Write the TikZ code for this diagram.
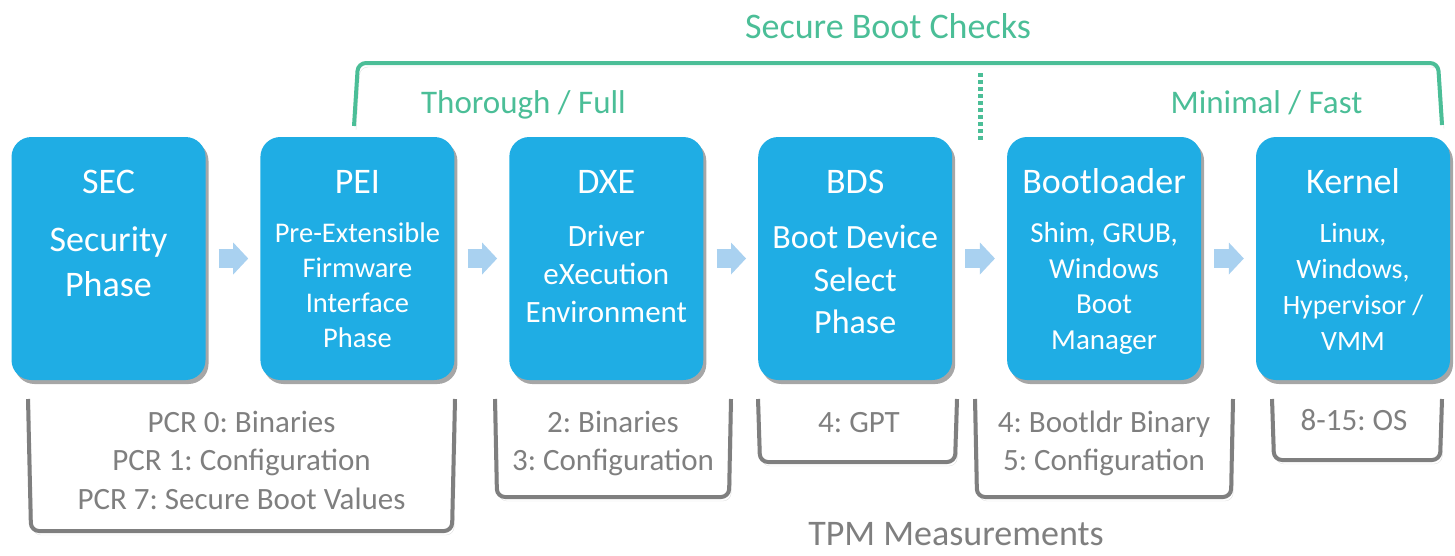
\documentclass[tikz,border=0pt]{standalone}
\usepackage{fontspec}
\setmainfont{Carlito}
\usetikzlibrary{positioning,shadows,arrows.meta}
\definecolor{phaseblue}{HTML}{1FADE4}
\definecolor{flowblue}{HTML}{A9D1F0}
\definecolor{checkgreen}{HTML}{4BBE97}
\definecolor{tpmgray}{HTML}{7F7F7F}
\frenchspacing

\begin{document}
\begin{tikzpicture}[x=1pt,y=-1pt,
    phase/.style={fill=phaseblue,rounded corners=20pt,minimum width=194pt,minimum height=243pt,inner sep=0pt,
        drop shadow={shadow xshift=3pt,shadow yshift=-4pt,opacity=0.35,fill=black}},
    title/.style={text=white,anchor=base,inner sep=0pt,font=\fontsize{36}{42}\selectfont},
    sub/.style={text=white,anchor=base,align=center,inner sep=0pt,font=#1},
    flow/.style={draw=flowblue,line width=19pt,-{Triangle[length=15pt,width=32pt,line width=0pt]},shorten <=13pt,shorten >=12pt},
    check/.style={draw=checkgreen,line width=4pt,rounded corners=8pt,
        preaction={draw=black,opacity=0.12,transform canvas={xshift=2pt,yshift=-4pt}}},
    tpm/.style={draw=tpmgray,line width=4pt,rounded corners=8pt,
        preaction={draw=black,opacity=0.12,transform canvas={xshift=2pt,yshift=-4pt}}},
    greentext/.style={text=checkgreen,anchor=base,inner sep=0pt,font=\fontsize{#1}{#1}\selectfont},
    pcr/.style={text=tpmgray,anchor=base,align=center,inner sep=0pt,font=\fontsize{31}{38.5}\selectfont}]
    \useasboundingbox (0,0) rectangle (1455,555);
    \node[phase] (sec) at (108.5,258.5) {};
    \node[phase,right=54.5pt of sec] (pei) {};
    \node[phase,right=54.5pt of pei] (dxe) {};
    \node[phase,right=54.5pt of dxe] (bds) {};
    \node[phase,right=54.5pt of bds] (boot) {};
    \node[phase,right=54.5pt of boot] (kernel) {};
    \node[title] (sectitle) at ([yshift=-57pt]sec.north) {SEC};
    \node[title] (peititle) at ([yshift=-57pt]pei.north) {PEI};
    \node[title] (dxetitle) at ([yshift=-57pt]dxe.north) {DXE};
    \node[title] (bdstitle) at ([yshift=-57pt]bds.north) {BDS};
    \node[title] (boottitle) at ([yshift=-57pt]boot.north) {Bootloader};
    \node[title] (kerneltitle) at ([yshift=-57pt]kernel.north) {Kernel};
    \node[sub={\fontsize{36}{45}\selectfont}] (secsub) at ([yshift=-160pt]sec.north) {Security\\Phase};
    \node[sub={\fontsize{28.5}{35}\selectfont}] (peisub) at ([yshift=-211pt]pei.north) {Pre-Extensible\\Firmware\\Interface\\Phase};
    \node[sub={\fontsize{31}{38}\selectfont}] (dxesub) at ([yshift=-186pt]dxe.north) {Driver\\eXecution\\Environment};
    \node[sub={\fontsize{34}{42.5}\selectfont}] (bdssub) at ([yshift=-197pt]bds.north) {Boot Device\\Select\\Phase};
    \node[sub={\fontsize{29}{35.5}\selectfont}] (bootsub) at ([yshift=-212.5pt]boot.north) {Shim, GRUB,\\Windows\\Boot\\Manager};
    \node[sub={\fontsize{28}{36}\selectfont}] (kernelsub) at ([yshift=-214pt]kernel.north) {Linux,\\Windows,\\Hypervisor /\\VMM};
    \foreach \a/\b in {sec/pei,pei/dxe,dxe/bds,bds/boot,boot/kernel}
        \draw[flow] (\a) -- (\b);
    \node[greentext=36] (checks) at (888,38) {Secure Boot Checks};
    \node[greentext=33] (full) at (523.5,113) {Thorough / Full};
    \node[greentext=33] (fast) at (1266.5,113) {Minimal / Fast};
    \draw[check] (354,126) -- (358,63) -- (1438,63) -- (1442,125);
    \draw[checkgreen,line width=5pt,dash pattern=on 4pt off 3pt] (980,73) -- (980,140);
    \draw[tpm] (28,399) -- (31,531) -- (452,531) -- (455,399);
    \draw[tpm] (495,399) -- (497,497) -- (729,497) -- (731,399);
    \draw[tpm] (758,399) -- (760,462) -- (955,462) -- (957,399);
    \draw[tpm] (975,399) -- (977,497) -- (1231,497) -- (1233,399);
    \draw[tpm] (1272,399) -- (1274,460) -- (1440,460) -- (1442,399);
    \node[pcr] (pcrsec) at (241.5,509) {PCR 0: Binaries\\PCR 1: Configuration\\PCR 7: Secure Boot Values};
    \node[pcr] (pcrdxe) at (613,470.5) {2: Binaries\\3: Configuration};
    \node[pcr] (pcrbds) at (859,432) {4: GPT};
    \node[pcr] (pcrboot) at (1104,470.5) {4: Bootldr Binary\\5: Configuration};
    \node[pcr] (pcrkernel) at (1354,430) {8-15: OS};
    \node[text=tpmgray,anchor=base,inner sep=0pt,font=\fontsize{36}{36}\selectfont] (tpm) at (956,545) {TPM Measurements};
\end{tikzpicture}
\end{document}
